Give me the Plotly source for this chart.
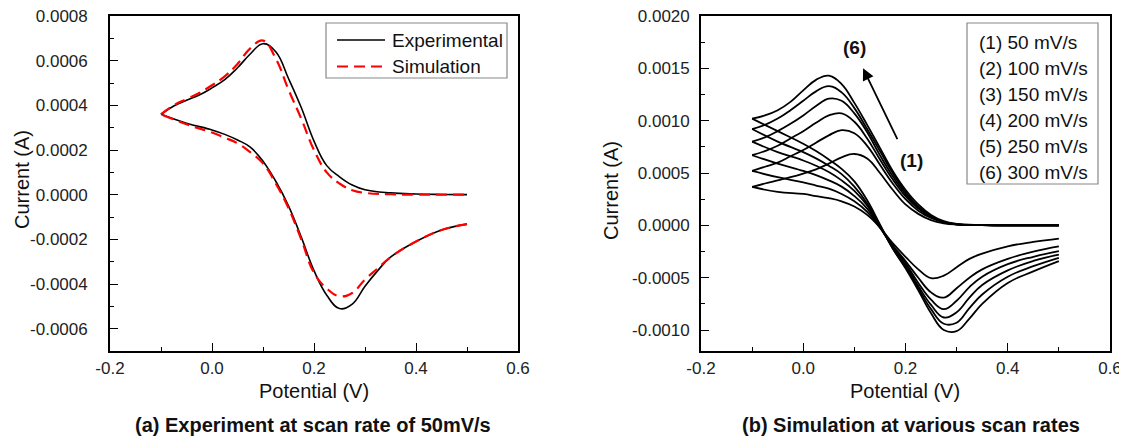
import plotly.graph_objects as go

# ── Data ──────────────────────────────────────────────────────────────────────

# potential grid, forward sweep (-0.1 -> 0.5) and reverse sweep (0.5 -> -0.1)
E_fwd = [-0.1, -0.075, -0.05, -0.025, 0.0, 0.025, 0.05, 0.075, 0.1, 0.125, 0.15,
         0.175, 0.2, 0.225, 0.25, 0.275, 0.3, 0.35, 0.4, 0.45, 0.5]
E_rev = [0.5, 0.45, 0.4, 0.35, 0.325, 0.3, 0.275, 0.25, 0.225, 0.2, 0.175, 0.15,
         0.125, 0.1, 0.075, 0.05, 0.025, 0.0, -0.05, -0.1]

# (a) experiment vs simulation at 50 mV/s
exp_fwd = [0.00036, 0.000397, 0.000423, 0.000446, 0.000478, 0.000515, 0.000568, 0.00063,
           0.000676, 0.00064, 0.00052, 0.00039, 0.00024, 0.00013, 0.00008, 0.000043,
           0.000022, 0.000008, 0.000003, 0.000001, 0.0]
exp_rev = [-0.000132, -0.000158, -0.00021, -0.00028, -0.00034, -0.00041, -0.00049, -0.00051,
           -0.00045, -0.00034, -0.00019, -0.00005, 0.00006, 0.00015, 0.000213, 0.000245,
           0.00027, 0.00029, 0.00032, 0.00036]
sim_fwd = [0.00036, 0.0004, 0.000428, 0.000455, 0.00049, 0.00053, 0.000585, 0.000655,
           0.00069, 0.00061, 0.00047, 0.00034, 0.0002, 0.0001, 0.00005, 0.00002,
           0.000008, 0.000002, 0.0, 0.0, 0.0]
sim_rev = [-0.000132, -0.000158, -0.00021, -0.00028, -0.00033, -0.00038, -0.00044, -0.000455,
           -0.00042, -0.00035, -0.0002, -0.00006, 0.00005, 0.00014, 0.00019, 0.00023,
           0.000255, 0.000278, 0.000315, 0.00036]

# (b) simulation at various scan rates
scan_labels = ["(1) 50 mV/s", "(2) 100 mV/s", "(3) 150 mV/s",
               "(4) 200 mV/s", "(5) 250 mV/s", "(6) 300 mV/s"]
sim_scan_fwd = [
    [0.000367, 0.0004, 0.00043, 0.00046, 0.000495, 0.000535, 0.00059, 0.00065, 0.000682,
     0.00064, 0.0005, 0.00034, 0.0002, 0.00011, 0.00005, 0.00002, 0.000008, 0.000002, 0.0, 0.0, 0.0],
    [0.00052, 0.00056, 0.0006, 0.00066, 0.00072, 0.00079, 0.00086, 0.00091, 0.00088,
     0.00076, 0.00058, 0.0004, 0.00025, 0.00014, 0.00007, 0.00003, 0.00001, 0.000003, 0.0, 0.0, 0.0],
    [0.00067, 0.00071, 0.00076, 0.00083, 0.0009, 0.00098, 0.00105, 0.00107, 0.00099,
     0.00083, 0.00063, 0.00044, 0.00028, 0.00016, 0.00008, 0.00003, 0.00001, 0.000003, 0.0, 0.0, 0.0],
    [0.0008, 0.00084, 0.0009, 0.00097, 0.00105, 0.00114, 0.00121, 0.00119, 0.00107,
     0.00089, 0.00067, 0.00047, 0.0003, 0.00017, 0.00008, 0.00003, 0.00001, 0.000003, 0.0, 0.0, 0.0],
    [0.00092, 0.00096, 0.00102, 0.0011, 0.00119, 0.00128, 0.00133, 0.00127, 0.00112,
     0.00092, 0.00071, 0.0005, 0.00032, 0.00018, 0.00009, 0.00003, 0.00001, 0.000004, 0.0, 0.0, 0.0],
    [0.00102, 0.00105, 0.0011, 0.00118, 0.00129, 0.00139, 0.00143, 0.00135, 0.00117,
     0.00096, 0.00074, 0.00052, 0.00034, 0.0002, 0.0001, 0.00004, 0.000015, 0.000004, 0.0, 0.0, 0.0],
]
sim_scan_rev = [
    [-0.000126, -0.000158, -0.0002, -0.00027, -0.00032, -0.0004, -0.00048, -0.000505, -0.00042,
     -0.0003, -0.00017, -0.00002, 0.0001, 0.00018, 0.00023, 0.00026, 0.00028, 0.0003, 0.00032, 0.000367],
    [-0.0002, -0.00025, -0.00032, -0.00042, -0.0005, -0.0006, -0.00069, -0.00064, -0.0005,
     -0.00034, -0.00019, -0.00002, 0.00013, 0.00023, 0.0003, 0.00035, 0.00038, 0.00041, 0.00046, 0.00052],
    [-0.000247, -0.0003, -0.00037, -0.00049, -0.00059, -0.00072, -0.0008, -0.00071, -0.00055,
     -0.00036, -0.0002, -0.00002, 0.00016, 0.00028, 0.00037, 0.00043, 0.00048, 0.00052, 0.00059, 0.00067],
    [-0.00028, -0.00034, -0.00043, -0.00057, -0.00069, -0.00083, -0.00088, -0.00076, -0.00058,
     -0.00038, -0.00021, -0.00001, 0.00019, 0.00033, 0.00043, 0.00051, 0.00057, 0.00062, 0.0007, 0.0008],
    [-0.00031, -0.00039, -0.00049, -0.00066, -0.00079, -0.00093, -0.00094, -0.0008, -0.0006,
     -0.0004, -0.00022, 0.0, 0.00021, 0.00037, 0.00049, 0.00057, 0.00064, 0.0007, 0.0008, 0.00092],
    [-0.000342, -0.00044, -0.00055, -0.00075, -0.00089, -0.00101, -0.001, -0.00084, -0.00062,
     -0.00041, -0.00022, 0.00001, 0.00024, 0.00042, 0.00054, 0.00063, 0.00071, 0.00078, 0.0009, 0.00102],
]

# tick values / labels
x_ticks = [-0.2, 0.0, 0.2, 0.4, 0.6]
x_tick_text = ["-0.2", "0.0", "0.2", "0.4", "0.6"]
x_minor = [-0.1, 0.1, 0.3, 0.5]
ya_ticks = [-0.0006, -0.0004, -0.0002, 0.0, 0.0002, 0.0004, 0.0006, 0.0008]
ya_tick_text = ["-0.0006", "-0.0004", "-0.0002", "0.0000", "0.0002", "0.0004", "0.0006", "0.0008"]
ya_minor = [-0.0005, -0.0003, -0.0001, 0.0001, 0.0003, 0.0005, 0.0007]
yb_ticks = [-0.001, -0.0005, 0.0, 0.0005, 0.001, 0.0015, 0.002]
yb_tick_text = ["-0.0010", "-0.0005", "0.0000", "0.0005", "0.0010", "0.0015", "0.0020"]
yb_minor = [-0.00075, -0.00025, 0.00025, 0.00075, 0.00125, 0.00175]


# ── Helpers ───────────────────────────────────────────────────────────────────

W, H = 1127, 439
OFF = 8  # the page body margin shifts the plot div by 8 px
FONT = "Liberation Sans, Arial, sans-serif"


def px(x):
    """Screen pixel x -> paper fraction."""
    return (x - OFF) / W


def py(y):
    """Screen pixel y (from top) -> paper fraction."""
    return 1 - (y - OFF) / H


def loop(fwd, rev):
    # forward and reverse sweeps as one trace, split at the 0.5 V switch
    return E_fwd + [None] + E_rev, fwd + [None] + rev


# ── Figure ────────────────────────────────────────────────────────────────────

fig = go.Figure()

x, y = loop(exp_fwd, exp_rev)
fig.add_trace(go.Scatter(x=x, y=y, mode="lines", name="Experimental",
                         line=dict(color="black", width=1.6, shape="spline", smoothing=1.2),
                         xaxis="x", yaxis="y", connectgaps=False))
x, y = loop(sim_fwd, sim_rev)
fig.add_trace(go.Scatter(x=x, y=y, mode="lines", name="Simulation",
                         line=dict(color="#ff0000", width=2.2, dash="11px,6px",
                                   shape="spline", smoothing=1.2),
                         xaxis="x", yaxis="y", connectgaps=False))

for label, fwd, rev in zip(scan_labels, sim_scan_fwd, sim_scan_rev):
    x, y = loop(fwd, rev)
    fig.add_trace(go.Scatter(x=x, y=y, mode="lines", name=label,
                             line=dict(color="black", width=1.8, shape="spline", smoothing=1.2),
                             xaxis="x2", yaxis="y2", connectgaps=False))

axis_style = dict(
    showline=True, linecolor="black", linewidth=1.7, mirror=True,
    ticks="inside", ticklen=8, tickwidth=1.3, tickcolor="black",
    showgrid=False, zeroline=False, tickmode="array", automargin=False,
    ticklabeloverflow="allow",
    tickfont=dict(family=FONT, size=17, color="#222"),
)
minor_style = dict(tickmode="array", ticks="inside", ticklen=4, tickwidth=1.3, tickcolor="black")

y_dom = [py(351), py(16)]

fig.update_layout(
    width=W, height=H,
    margin=dict(l=0, r=0, t=0, b=0),
    paper_bgcolor="white", plot_bgcolor="white",
    showlegend=False,
    font=dict(family=FONT, color="#111"),
    xaxis=dict(**axis_style, domain=[px(110), px(518)], range=[-0.2, 0.6], anchor="y",
               tickvals=x_ticks, ticktext=x_tick_text, ticklabelstandoff=1,
               minor=dict(**minor_style, tickvals=x_minor)),
    yaxis=dict(**axis_style, domain=y_dom, range=[-0.0007, 0.0008], anchor="x",
               tickvals=ya_ticks, ticktext=ya_tick_text, ticklabelstandoff=17,
               minor=dict(**minor_style, tickvals=ya_minor)),
    xaxis2=dict(**axis_style, domain=[px(701), px(1110)], range=[-0.2, 0.6], anchor="y2",
                tickvals=x_ticks, ticktext=x_tick_text, ticklabelstandoff=1,
                minor=dict(**minor_style, tickvals=x_minor)),
    yaxis2=dict(**axis_style, domain=y_dom, range=[-0.0012, 0.002], anchor="x2",
                tickvals=yb_ticks, ticktext=yb_tick_text, ticklabelstandoff=6,
                minor=dict(**minor_style, tickvals=yb_minor)),
)

# ── Text: axis titles, captions, legends, labels ──────────────────────────────

def note(text, x, y, size, bold=False, angle=0, xanchor="center"):
    fig.add_annotation(
        text=f"<b>{text}</b>" if bold else text,
        x=px(x), y=py(y), xref="paper", yref="paper",
        xanchor=xanchor, yanchor="middle", showarrow=False, textangle=angle,
        font=dict(family=FONT, size=size, color="#111"),
    )


note("Potential (V)", 314, 391, 20)
note("Potential (V)", 905, 391, 20)
note("Current (A)", 22, 180, 20, angle=-90)
note("Current (A)", 611, 190, 20, angle=-90)
note("(a) Experiment at scan rate of 50mV/s", 313, 425, 20, bold=True)
note("(b) Simulation at various scan rates", 911, 425, 20, bold=True)

# legend (a)
fig.add_shape(type="rect", xref="paper", yref="paper",
              x0=px(326), x1=px(507), y0=py(78), y1=py(23),
              line=dict(color="#888", width=1.2), fillcolor="white")
fig.add_shape(type="line", xref="paper", yref="paper",
              x0=px(337), x1=px(385), y0=py(40), y1=py(40),
              line=dict(color="black", width=1.6))
fig.add_shape(type="line", xref="paper", yref="paper",
              x0=px(337), x1=px(385), y0=py(66.5), y1=py(66.5),
              line=dict(color="#ff0000", width=2.2, dash="11px,6px"))
note("Experimental", 390, 40, 19, xanchor="left")
note("Simulation", 390, 66.5, 19, xanchor="left")

# legend (b)
fig.add_shape(type="rect", xref="paper", yref="paper",
              x0=px(967), x1=px(1098), y0=py(184), y1=py(23),
              line=dict(color="#888", width=1.2), fillcolor="white")
for i, label in enumerate(scan_labels):
    note(label, 977, 42.7 + 26 * i, 19, xanchor="left")

# arrow (1) -> (6)
fig.add_annotation(x=0.117, y=0.0015, ax=0.1855, ay=0.00081,
                   xref="x2", yref="y2", axref="x2", ayref="y2",
                   text="", showarrow=True, arrowhead=2, arrowsize=1.3,
                   arrowwidth=1.8, arrowcolor="black")
fig.add_annotation(x=0.101, y=0.0017, xref="x2", yref="y2", text="<b>(6)</b>",
                   showarrow=False, font=dict(family=FONT, size=19, color="#111"))
fig.add_annotation(x=0.212, y=0.000624, xref="x2", yref="y2", text="<b>(1)</b>",
                   showarrow=False, font=dict(family=FONT, size=19, color="#111"))

fig.write_html("out.html")
